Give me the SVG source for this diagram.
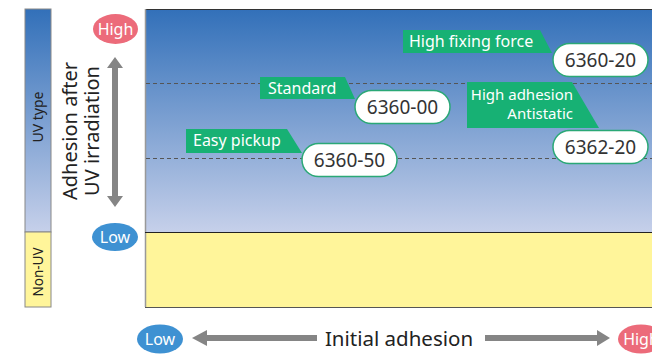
<svg xmlns="http://www.w3.org/2000/svg" width="652" height="354" viewBox="0 0 652 354">
<defs>
<linearGradient id="uv" x1="0" y1="0" x2="0" y2="1">
<stop offset="0" stop-color="#3270b9"/>
<stop offset="1" stop-color="#c6d0ea"/>
</linearGradient>
</defs>
<style>
text{font-family:"Noto Sans","Open Sans","Liberation Sans",sans-serif}
.lbl{fill:#17b174}
.lt{fill:#fff;font-size:16px}
.pill{fill:#fff;stroke:#2aa876;stroke-width:1.5}
.pt{fill:#333;font-size:19px;text-anchor:middle}
.dash{stroke:#555;stroke-width:1;stroke-dasharray:4 3}
.arr{fill:#858585}
.ell{font-size:16px;fill:#fff;text-anchor:middle}
</style>
<rect width="652" height="354" fill="#fff"/>
<g id="side-bar">
<rect x="25" y="9" width="26" height="223" fill="url(#uv)" stroke="#888" stroke-width="1"/>
<rect x="25" y="232" width="26" height="75" fill="#fff59a" stroke="#888" stroke-width="1"/>
<text transform="translate(43,117) rotate(-90)" font-size="14" fill="#222" text-anchor="middle">UV type</text>
<text transform="translate(43,272) rotate(-90)" font-size="13.5" fill="#222" text-anchor="middle">Non-UV</text>
</g>
<g id="chart">
<rect x="145" y="9" width="520" height="223" fill="url(#uv)"/>
<rect x="145" y="232" width="520" height="75" fill="#fff59a"/>
<line x1="145" y1="9.5" x2="652" y2="9.5" stroke="#333" stroke-width="1"/>
<line x1="145.5" y1="9" x2="145.5" y2="307" stroke="#999" stroke-width="1.5"/>
<line x1="145" y1="232.5" x2="652" y2="232.5" stroke="#222" stroke-width="1"/>
<line x1="145" y1="307.5" x2="652" y2="307.5" stroke="#555" stroke-width="1"/>
</g>
<g id="connectors">
<line class="dash" x1="146" y1="83.5" x2="652" y2="83.5"/>
<line class="dash" x1="146" y1="158.5" x2="652" y2="158.5"/>
<polygon class="arr" points="115,57 123,68 118,68 118,196 123,196 115,207 107,196 112,196 112,68 107,68"/>
<polygon class="arr" points="192,338 207,330 207,335 317,335 317,341 207,341 207,346"/>
<polygon class="arr" points="610,338 597,330 597,335 485,335 485,341 597,341 597,346"/>
</g>
<g id="y-axis">
<ellipse cx="115.5" cy="29" rx="22.5" ry="15" fill="#ec6b7a"/>
<text class="ell" x="115.5" y="35">High</text>
<ellipse cx="115" cy="237" rx="23" ry="14" fill="#3e91d2"/>
<text class="ell" x="115" y="243">Low</text>
<text transform="translate(77,131) rotate(-90)" font-size="20" fill="#222" text-anchor="middle">Adhesion after</text>
<text transform="translate(99,131) rotate(-90)" font-size="20" fill="#222" text-anchor="middle">UV irradiation</text>
</g>
<g id="x-axis">
<ellipse cx="160" cy="339" rx="23" ry="14.5" fill="#3e91d2"/>
<text class="ell" x="160" y="345">Low</text>
<ellipse cx="641" cy="339" rx="23" ry="14.5" fill="#ec6b7a"/>
<text class="ell" x="641" y="345">High</text>
<text x="399" y="346" font-size="20.5" fill="#222" text-anchor="middle">Initial adhesion</text>
</g>
<g id="node-6360-20">
<polygon class="lbl" points="403,30 540,30 552,53 403,53"/>
<text class="lt" x="409" y="47">High fixing force</text>
<rect class="pill" x="553" y="43.5" width="95" height="33" rx="16.5"/>
<text class="pt" x="600.5" y="67">6360-20</text>
</g>
<g id="node-6360-00">
<polygon class="lbl" points="260,77 345,77 355,99 260,99"/>
<text class="lt" x="268" y="94">Standard</text>
<rect class="pill" x="355" y="90.5" width="95" height="33" rx="16.5"/>
<text class="pt" x="402.5" y="114">6360-00</text>
</g>
<g id="node-6362-20">
<polygon class="lbl" points="467,82 572,82 599,128 467,128"/>
<text class="lt" x="573" y="100" text-anchor="end" font-size="15" style="font-size:15px">High adhesion</text>
<text class="lt" x="573" y="119" text-anchor="end" style="font-size:15px">Antistatic</text>
<rect class="pill" x="553" y="130.5" width="95" height="33" rx="16.5"/>
<text class="pt" x="600.5" y="154">6362-20</text>
</g>
<g id="node-6360-50">
<polygon class="lbl" points="186,129 287,129 302,153 186,153"/>
<text class="lt" x="193" y="146">Easy pickup</text>
<rect class="pill" x="302" y="143.5" width="95" height="33" rx="16.5"/>
<text class="pt" x="349.5" y="167">6360-50</text>
</g>
</svg>
